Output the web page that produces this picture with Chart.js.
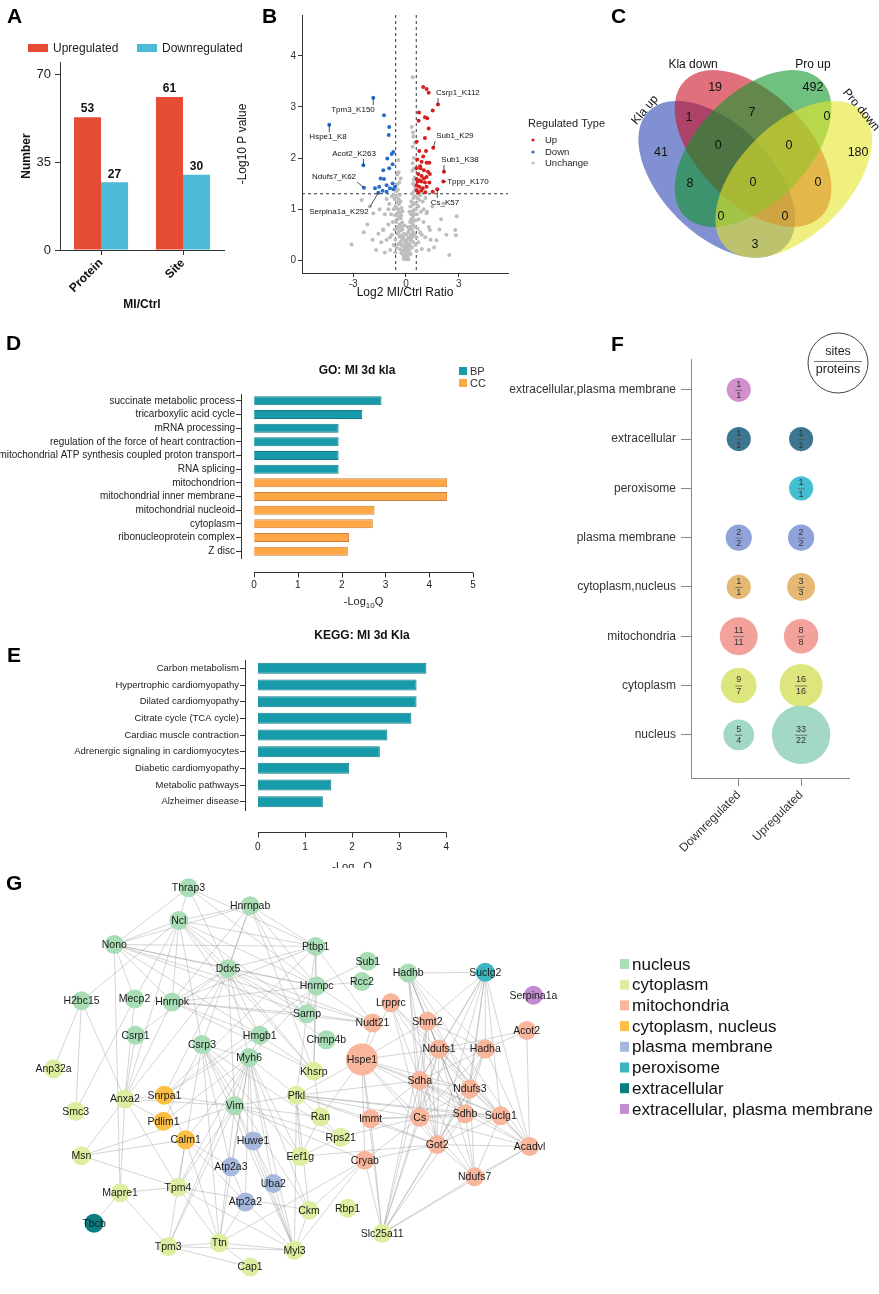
<!DOCTYPE html>
<html>
<head>
<meta charset="utf-8">
<script src="https://cdn.jsdelivr.net/npm/chart.js@4.4.1/dist/chart.umd.min.js"></script>
<style>
  body { margin: 0; background: #fff; width: 879px; height: 1294px; position: relative; overflow: hidden;
         font-family: "Liberation Sans", Arial, sans-serif; }
  canvas { position: absolute; }
  .tag { position: absolute; font-weight: bold; font-size: 21px; color: #000; line-height: 1; }
</style>
</head>
<body>
<canvas id="cA" width="272" height="320" style="left:0;top:0"></canvas>
<canvas id="cB" width="385" height="300" style="left:230px;top:0"></canvas>
<canvas id="cC" width="319" height="300" style="left:560px;top:0"></canvas>
<canvas id="cD" width="500" height="290" style="left:0;top:330px"></canvas>
<canvas id="cF" width="389" height="530" style="left:490px;top:330px"></canvas>
<canvas id="cE" width="480" height="248" style="left:0;top:620px"></canvas>
<canvas id="cG" width="879" height="434" style="left:0;top:860px"></canvas>
<div class="tag" style="left:7px;top:5px">A</div>
<div class="tag" style="left:262px;top:5px">B</div>
<div class="tag" style="left:611px;top:5px">C</div>
<div class="tag" style="left:6px;top:332px">D</div>
<div class="tag" style="left:7px;top:644px">E</div>
<div class="tag" style="left:611px;top:333px">F</div>
<div class="tag" style="left:6px;top:872px">G</div>
<script>
// ---- A: counts of regulated proteins / sites
const groupLabels = ["Protein", "Site"];
const upregulatedCounts = [53, 61];
const downregulatedCounts = [27, 30];

// ---- B: volcano points [log2 ratio, -log10 p]
const upPoints = [[0.98,3.39],[1.17,3.35],[1.29,3.28],[1.82,3.05],[1.52,2.93],[0.74,2.89],[1.08,2.8],[1.21,2.78],
  [0.72,2.73],[1.29,2.58],[1.08,2.39],[0.61,2.32],[1.55,2.2],[1.14,2.14],[0.76,2.14],[0.64,1.97],[0.89,1.93],
  [1.17,1.91],[1.33,1.91],[2.16,1.73],[0.8,1.84],[0.61,1.8],[1.02,1.76],[1.36,1.69],[0.7,1.69],[0.89,1.65],
  [1.17,1.63],[2.12,1.54],[0.61,1.59],[0.8,1.56],[1.08,1.52],[1.33,1.52],[0.61,1.47],[0.76,1.44],[0.95,1.41],
  [1.17,1.44],[0.61,1.37],[0.87,1.36],[1.1,1.33],[1.52,1.34],[1.78,1.39],[0.7,1.32],[0.87,1.54],[0.66,1.54],
  [0.98,2.03],[0.83,1.8],[1.25,1.73],[1.02,1.6]];
const downPoints = [[-1.86,3.18],[-4.36,2.65],[-1.25,2.84],[-0.95,2.61],[-0.98,2.45],[-2.42,1.86],[-0.72,2.12],
  [-0.81,2.08],[-0.76,1.88],[-1.06,1.99],[-0.95,1.8],[-1.29,1.76],[-2.39,1.42],[-1.44,1.6],[-1.25,1.59],
  [-1.52,1.44],[-1.1,1.47],[-0.76,1.5],[-0.62,1.44],[-0.91,1.41],[-1.33,1.36],[-1.57,1.32],[-1.1,1.34],
  [-0.72,1.39],[-1.76,1.41]];
const unchangePoints = [[0,0.02],[0.05,0.05],[-0.05,0.04],[0.1,0.08],[-0.1,0.07],[0.02,0.12],[-0.02,0.15],[0.08,0.18],
  [-0.08,0.2],[0.15,0.12],[-0.15,0.1],[0.12,0.25],[-0.12,0.26],[0.2,0.2],[-0.2,0.18],[0.18,0.32],[-0.18,0.3],
  [0.25,0.28],[-0.25,0.3],[0.05,0.3],[-0.05,0.28],[0.22,0.4],[-0.22,0.42],[0.3,0.38],[-0.3,0.36],[0.28,0.5],
  [-0.28,0.48],[0.35,0.45],[-0.35,0.46],[0.15,0.45],[-0.15,0.44],[0.32,0.6],[-0.32,0.58],[0.4,0.55],[-0.4,0.56],
  [0.26,0.65],[-0.27,0.66],[0.36,0.72],[-0.36,0.7],[0.42,0.68],[-0.44,0.65],[0.3,0.8],[-0.3,0.82],[0.4,0.85],
  [-0.4,0.86],[0.46,0.78],[-0.48,0.8],[0.35,0.95],[-0.36,0.94],[0.44,0.98],[-0.44,1.0],[0.5,0.9],[-0.5,0.92],
  [0.38,1.08],[-0.4,1.1],[0.48,1.12],[-0.5,1.14],[0.42,1.22],[-0.42,1.2],[0.52,1.25],[-0.54,1.26],[0.46,1.35],
  [-0.46,1.38],[0.36,1.3],[-0.34,1.28],[0.5,1.45],[-0.5,1.48],[0.4,1.5],[-0.38,1.52],[0.55,1.4],[-0.56,1.35],
  [0.45,1.58],[-0.3,1.6],[0.5,1.62],[0.33,2.61],[0.42,2.42],[0.38,2.22],[0.38,1.9],[-0.44,1.96],[0.38,3.58],
  [0.45,2.0],[0.36,1.75],[-0.42,1.72],[0.5,2.3],[0.4,2.5],[-0.5,1.68],[0.48,1.8],
  [-0.6,0.4],[0.6,0.45],[-0.7,0.3],[0.7,0.35],[-0.65,0.6],[0.66,0.62],[-0.8,0.5],[0.8,0.55],[-0.75,0.75],
  [0.72,0.8],[-0.9,0.45],[0.9,0.5],[-0.85,0.9],[0.85,0.95],[-0.7,1.0],[0.7,1.05],[-0.65,1.2],[0.65,1.22],
  [-1.0,0.7],[1.0,0.75],[-1.1,0.4],[1.1,0.45],[-0.95,1.1],[0.95,1.15],[-1.2,0.9],[1.2,0.95],[-1.3,0.6],
  [1.3,0.65],[-1.4,0.35],[1.4,0.4],[-1.29,0.59],[1.36,0.59],[-1.57,0.52],[1.74,0.39],[-1.86,0.92],[1.17,0.92],
  [-2.05,1.05],[2.12,1.11],[-2.52,1.18],[-3.09,0.31],[2.46,0.1],[2.88,0.86],[2.8,0.59],[2.84,0.49],[-1.7,0.2],
  [1.6,0.25],[-0.9,0.2],[0.9,0.22],[-1.1,1.2],[1.1,1.22],[-0.8,1.25],[0.8,1.27],[-2.2,0.7],[2.0,0.8],[-1.5,1.0],
  [1.5,1.05],[-0.6,0.15],[0.6,0.18],[-1.2,0.15],[1.3,0.2],[0.75,1.18],[-0.7,1.28],[1.0,1.0],[-1.0,1.0],
  [0.55,0.3],[-0.55,0.25],[0.62,0.9],[-0.62,0.88],[2.3,0.5],[-2.4,0.55],[1.9,0.6],[-1.9,0.4],[0.6,1.1],[-0.6,1.05],
  [0,0.35],[0.08,0.4],[-0.08,0.38],[0.12,0.55],[-0.12,0.52],[0.2,0.6],[-0.2,0.6],[0,0.5],[0.24,0.75],[-0.22,0.74],
  [0.1,0.65],[-0.1,0.68],[0.3,0.9],[-0.28,0.88],[0.2,0.95],[-0.2,0.96],[0.3,1.15],[-0.3,1.15],[0.25,1.05],
  [-0.25,1.02],[0.04,0.22],[-0.03,0.1],[0.14,0.02],[-0.14,0.03],[0.27,0.12],[-0.27,0.14],[0.34,0.25],[-0.34,0.22],
  [0.42,0.35],[-0.42,0.32],[0.47,0.5],[-0.47,0.52],[0.52,0.65],[-0.52,0.62],[0.55,0.78],[-0.56,0.75],[0.56,1.0],[-0.56,1.02]];
const fcCut = [-0.585, 0.585];
const pCut = 1.301;
const volcanoLabels = [
  { text: "Csrp1_K112", at: [1.82, 3.05], textAt: [2.95, 3.27] },
  { text: "Tpm3_K150", at: [-1.86, 3.18], textAt: [-3.01, 2.94] },
  { text: "Hspe1_K8", at: [-4.36, 2.65], textAt: [-4.43, 2.41] },
  { text: "Acot2_K263", at: [-2.42, 1.86], textAt: [-2.95, 2.08] },
  { text: "Ndufs7_K62", at: [-2.39, 1.42], textAt: [-4.09, 1.63] },
  { text: "Serpina1a_K292", at: [-1.57, 1.32], textAt: [-3.81, 0.94] },
  { text: "Sub1_K29", at: [1.55, 2.2], textAt: [2.78, 2.43] },
  { text: "Sub1_K38", at: [2.16, 1.73], textAt: [3.07, 1.96] },
  { text: "Tppp_K170", at: [2.12, 1.54], textAt: [3.52, 1.53] },
  { text: "Cs_K57", at: [1.78, 1.39], textAt: [2.22, 1.12] }
];

// ---- C: four-set Venn counts (region label anchor in diagram units)
const vennSets = ["Kla up", "Kla down", "Pro up", "Pro down"];
const vennCounts = [19, 492, 1, 7, 0, 41, 0, 0, 180, 8, 0, 0, 0, 0, 3];
const vennRegionAt = [[0.362,0.79],[0.718,0.79],[0.267,0.681],[0.496,0.699],[0.769,0.685],[0.165,0.554],
  [0.373,0.579],[0.631,0.579],[0.882,0.554],[0.271,0.441],[0.5,0.445],[0.736,0.445],[0.383,0.321],[0.616,0.321],[0.507,0.219]];

// ---- D: GO enrichment
const goTerms = ["succinate metabolic process", "tricarboxylic acid cycle", "mRNA processing",
  "regulation of the force of heart contraction", "mitochondrial ATP synthesis coupled proton transport",
  "RNA splicing", "mitochondrion", "mitochondrial inner membrane", "mitochondrial nucleoid", "cytoplasm",
  "ribonucleoprotein complex", "Z disc"];
const goValues = [2.91, 2.47, 1.93, 1.93, 1.93, 1.93, 4.41, 4.41, 2.75, 2.71, 2.17, 2.14];
const goClass = ["BP", "BP", "BP", "BP", "BP", "BP", "CC", "CC", "CC", "CC", "CC", "CC"];

// ---- E: KEGG enrichment
const keggTerms = ["Carbon metabolism", "Hypertrophic cardiomyopathy", "Dilated cardiomyopathy",
  "Citrate cycle (TCA cycle)", "Cardiac muscle contraction", "Adrenergic signaling in cardiomyocytes",
  "Diabetic cardiomyopathy", "Metabolic pathways", "Alzheimer disease"];
const keggValues = [3.58, 3.37, 3.37, 3.26, 2.75, 2.59, 1.94, 1.56, 1.38];

// ---- F: subcellular location bubbles
const locations = ["extracellular,plasma membrane", "extracellular", "peroxisome", "plasma membrane",
  "cytoplasm,nucleus", "mitochondria", "cytoplasm", "nucleus"];
const regGroups = ["Downregulated", "Upregulated"];
const downSites = [1, 1, null, 2, 1, 11, 9, 5];
const downProteins = [1, 1, null, 2, 1, 11, 7, 4];
const upSites = [null, 1, 1, 2, 3, 8, 16, 33];
const upProteins = [null, 1, 1, 2, 3, 8, 16, 22];
const locColors = ["#D291CB", "#3C7690", "#44BFD2", "#8FA3DA", "#E5B873", "#F2A29A", "#DDE67C", "#A2D8C4"];

// ---- G: network nodes [name, location index, layout x, layout y]
const netLocations = ["nucleus", "cytoplasm", "mitochondria", "cytoplasm, nucleus", "plasma membrane",
  "peroxisome", "extracellular", "extracellular, plasma membrane"];
const netColors = ["#A8DDB5", "#DCEFA0", "#F8B69C", "#FBBF45", "#A6B9DC", "#3DB5BF", "#0B7E82", "#C28DD0"];
const nodes = [
  ["Thrap3",0,29.8,104.3],["Hnrnpab",0,42.6,99.5],["Ncl",0,27.8,95.5],["Nono",0,14.4,89],["Ptbp1",0,56.2,88.5],
  ["Ddx5",0,38,82.5],["Sub1",0,67,84.5],["Rcc2",0,65.8,79],["Hadhb",0,75.4,81.3],["Suclg2",5,91.4,81.5],
  ["Serpina1a",7,101.4,75.3],["Hnrnpc",0,56.4,77.8],["H2bc15",0,7.6,73.8],["Mecp2",0,18.6,74.3],["Hnrnpk",0,26.4,73.5],
  ["Lrpprc",2,71.8,73.3],["Sarnp",0,54.4,70.3],["Nudt21",2,68,67.8],["Shmt2",2,79.4,68.3],["Acot2",2,100,65.8],
  ["Csrp1",0,18.8,64.5],["Hmgb1",0,44.6,64.5],["Chmp4b",0,58.4,63.3],["Csrp3",0,32.6,62],["Ndufs1",2,81.8,60.8],
  ["Hadha",2,91.4,60.8],["Hspe1",2,65.8,58],["Myh6",0,42.4,58.5],["Anp32a",1,1.8,55.5],["Khsrp",1,55.8,54.8],
  ["Sdha",2,77.8,52.3],["Ndufs3",2,88.2,50],["Anxa2",1,16.6,47.3],["Snrpa1",3,24.8,48.3],["Pfkl",1,52.2,48.3],
  ["Smc3",1,6.4,44],["Vim",0,39.4,45.5],["Pdlim1",3,24.6,41.3],["Ran",1,57.2,42.5],["Immt",2,67.6,42],
  ["Cs",2,77.8,42.3],["Sdhb",2,87.2,43.3],["Suclg1",2,94.6,42.8],["Rps21",1,61.4,37],["Calm1",3,29.2,36.3],
  ["Huwe1",4,43.2,36],["Got2",2,81.4,35],["Acadvl",2,100.6,34.5],["Msn",1,7.6,32],["Eef1g",1,53,31.8],
  ["Cryab",2,66.4,30.8],["Atp2a3",4,38.6,29],["Ndufs7",2,89.2,26.3],["Uba2",4,47.4,24.5],["Tpm4",1,27.6,23.5],
  ["Mapre1",1,15.6,22],["Atp2a2",4,41.6,19.5],["Ckm",1,54.8,17.3],["Rbp1",1,62.8,17.8],["Tbcb",6,10.2,13.8],
  ["Slc25a11",1,70,11],["Ttn",1,36.2,8.5],["Tpm3",1,25.6,7.5],["Myl3",1,51.8,6.5],["Cap1",1,42.6,2]
];
const edges = [
  "Thrap3-Ncl","Thrap3-Nono","Thrap3-Ddx5","Thrap3-Hnrnpc","Thrap3-Ptbp1",
  "Hnrnpab-Ncl","Hnrnpab-Ddx5","Hnrnpab-Ptbp1","Hnrnpab-Hnrnpc","Hnrnpab-Hnrnpk","Hnrnpab-Khsrp","Hnrnpab-Nono","Hnrnpab-Csrp3","Hnrnpab-Sarnp",
  "Ncl-Nono","Ncl-Ddx5","Ncl-Ptbp1","Ncl-Hnrnpc","Ncl-Hnrnpk","Ncl-Mecp2","Ncl-Anxa2","Ncl-Hmgb1","Ncl-Khsrp","Ncl-Sarnp","Ncl-Csrp3","Ncl-H2bc15",
  "Nono-Ddx5","Nono-Hnrnpc","Nono-Ptbp1","Nono-Hnrnpk","Nono-Mapre1","Nono-Hmgb1","Nono-Sarnp","Nono-Mecp2","Nono-Nudt21",
  "Ddx5-Hnrnpc","Ddx5-Hnrnpk","Ddx5-Ptbp1","Ddx5-Myh6","Ddx5-Snrpa1","Ddx5-Hmgb1","Ddx5-Khsrp","Ddx5-Nudt21","Ddx5-Anxa2","Ddx5-Vim","Ddx5-Csrp1","Ddx5-Chmp4b","Ddx5-Sarnp",
  "Ptbp1-Hnrnpc","Ptbp1-Hnrnpk","Ptbp1-Khsrp","Ptbp1-Nudt21","Ptbp1-Snrpa1","Ptbp1-Pfkl",
  "Hnrnpc-Hnrnpk","Hnrnpc-Khsrp","Hnrnpc-Sarnp","Hnrnpc-Nudt21","Hnrnpc-Sub1","Hnrnpc-Myh6","Hnrnpc-Rcc2","Hnrnpc-Snrpa1",
  "H2bc15-Anp32a","H2bc15-Smc3","H2bc15-Anxa2","Mecp2-Smc3","Mecp2-Anxa2",
  "Hnrnpk-Anxa2","Hnrnpk-Sarnp","Hnrnpk-Nudt21","Hnrnpk-Hmgb1","Hnrnpk-Khsrp","Csrp1-Anxa2",
  "Hmgb1-Khsrp","Hmgb1-Snrpa1","Hmgb1-Myh6",
  "Csrp3-Myh6","Csrp3-Vim","Csrp3-Tpm4","Csrp3-Ttn","Csrp3-Myl3","Csrp3-Ckm","Csrp3-Pdlim1","Csrp3-Rps21","Csrp3-Eef1g","Csrp3-Atp2a3",
  "Myh6-Vim","Myh6-Tpm4","Myh6-Tpm3","Myh6-Ttn","Myh6-Myl3","Myh6-Ckm","Myh6-Atp2a2","Myh6-Atp2a3","Myh6-Huwe1","Myh6-Calm1","Myh6-Pfkl","Myh6-Uba2","Myh6-Eef1g","Myh6-Pdlim1",
  "Vim-Anxa2","Vim-Snrpa1","Vim-Tpm4","Vim-Cryab","Vim-Ttn","Vim-Msn","Vim-Myl3","Vim-Huwe1","Vim-Ran","Vim-Rps21","Vim-Pfkl","Vim-Tpm3",
  "Anxa2-Tpm4","Anxa2-Mapre1","Anxa2-Msn","Anxa2-Snrpa1","Anxa2-Pdlim1","Msn-Tpm4","Msn-Calm1",
  "Mapre1-Tbcb","Mapre1-Tpm4","Mapre1-Tpm3","Tpm4-Tpm3","Tpm4-Ttn","Tpm4-Myl3","Tpm4-Calm1","Tpm4-Ckm",
  "Tpm3-Ttn","Tpm3-Myl3","Tpm3-Cap1","Ttn-Myl3","Ttn-Cryab","Ttn-Calm1","Ttn-Atp2a2","Ttn-Cap1",
  "Atp2a3-Atp2a2","Atp2a3-Calm1","Atp2a2-Myl3","Atp2a2-Calm1","Huwe1-Uba2","Huwe1-Myl3","Uba2-Myl3",
  "Ckm-Myl3","Ckm-Pfkl","Ckm-Cryab","Myl3-Cryab","Myl3-Pfkl","Cryab-Hspe1","Cryab-Got2","Cryab-Cs",
  "Pfkl-Ran","Pfkl-Eef1g","Pfkl-Cs","Pfkl-Sdha","Pfkl-Got2","Pfkl-Hspe1","Pfkl-Immt","Pfkl-Sdhb","Pfkl-Suclg1",
  "Khsrp-Ran","Ran-Eef1g","Ran-Rps21","Ran-Hspe1","Eef1g-Rps21","Eef1g-Got2","Rps21-Cs",
  "Hspe1-Shmt2","Hspe1-Ndufs1","Hspe1-Sdha","Hspe1-Cs","Hspe1-Immt","Hspe1-Got2","Hspe1-Sdhb","Hspe1-Suclg1","Hspe1-Lrpprc","Hspe1-Ndufs3",
  "Slc25a11-Got2","Slc25a11-Cs","Slc25a11-Sdha","Slc25a11-Ndufs7","Slc25a11-Acadvl","Slc25a11-Hspe1","Slc25a11-Immt","Slc25a11-Ndufs1","Slc25a11-Sdhb","Slc25a11-Ndufs3","Slc25a11-Cryab","Slc25a11-Shmt2",
  "Hadhb-Suclg2","Hadhb-Shmt2","Hadhb-Ndufs1","Hadhb-Sdha","Hadhb-Cs","Hadhb-Got2","Hadhb-Hadha","Hadhb-Sdhb","Hadhb-Acadvl","Hadhb-Ndufs3",
  "Suclg2-Shmt2","Suclg2-Ndufs1","Suclg2-Sdha","Suclg2-Cs","Suclg2-Suclg1","Suclg2-Sdhb","Suclg2-Acadvl","Suclg2-Got2","Suclg2-Ndufs3","Suclg2-Hadha",
  "Acot2-Hadha","Acot2-Acadvl","Acot2-Ndufs1","Lrpprc-Ndufs3","Lrpprc-Cs","Lrpprc-Ndufs1","Lrpprc-Sdhb","Lrpprc-Sdha",
  "Shmt2-Ndufs1","Shmt2-Sdha","Shmt2-Cs","Shmt2-Got2","Shmt2-Suclg1","Shmt2-Sdhb","Shmt2-Hadha",
  "Ndufs1-Hadha","Ndufs1-Sdha","Ndufs1-Ndufs3","Ndufs1-Cs","Ndufs1-Got2","Ndufs1-Sdhb","Ndufs1-Ndufs7","Ndufs1-Suclg1","Ndufs1-Acadvl",
  "Hadha-Sdha","Hadha-Cs","Hadha-Acadvl","Hadha-Got2","Hadha-Ndufs3","Hadha-Sdhb",
  "Sdha-Ndufs3","Sdha-Cs","Sdha-Sdhb","Sdha-Suclg1","Sdha-Got2","Sdha-Ndufs7","Sdha-Immt","Sdha-Acadvl",
  "Ndufs3-Cs","Ndufs3-Sdhb","Ndufs3-Suclg1","Ndufs3-Got2","Ndufs3-Ndufs7","Ndufs3-Acadvl",
  "Cs-Sdhb","Cs-Suclg1","Cs-Got2","Cs-Immt","Cs-Acadvl","Cs-Ndufs7","Sdhb-Suclg1","Sdhb-Got2","Sdhb-Ndufs7","Sdhb-Acadvl",
  "Suclg1-Got2","Suclg1-Acadvl","Suclg1-Ndufs7","Got2-Ndufs7","Got2-Acadvl","Got2-Immt","Acadvl-Ndufs7","Immt-Sdhb",
  "Nudt21-Sarnp","Nudt21-Hspe1","Calm1-Snrpa1"
];

Chart.defaults.font.family = '"Liberation Sans", Arial, sans-serif';
Chart.defaults.color = "#222";
Chart.defaults.animation = false;
Chart.defaults.responsive = false;
Chart.defaults.events = [];
Chart.defaults.plugins.legend.display = false;
Chart.defaults.plugins.tooltip.enabled = false;
const FONT = '"Liberation Sans", Arial, sans-serif';

// ================= A =================
const barLegendAndValues = {
  id: "barLegendAndValues",
  afterDatasetsDraw(chart) {
    const ctx = chart.ctx;
    ctx.save();
    ctx.font = "bold 12px " + FONT;
    ctx.fillStyle = "#111";
    ctx.textAlign = "center";
    ctx.textBaseline = "bottom";
    chart.data.datasets.forEach((ds, di) => {
      chart.getDatasetMeta(di).data.forEach((bar, i) => ctx.fillText(ds.data[i], bar.x, bar.y - 2));
    });
    // legend row
    ctx.font = "12px " + FONT;
    ctx.textAlign = "left";
    ctx.textBaseline = "middle";
    const starts = [28, 137];
    chart.data.datasets.forEach((ds, di) => {
      ctx.fillStyle = ds.backgroundColor;
      ctx.fillRect(starts[di], 44, 20, 8);
      ctx.fillStyle = "#222";
      ctx.fillText(ds.label, starts[di] + 25, 48.5);
    });
    ctx.restore();
  }
};
new Chart(document.getElementById("cA"), {
  type: "bar",
  data: {
    labels: groupLabels,
    datasets: [
      { label: "Upregulated", data: upregulatedCounts, backgroundColor: "#E64B35" },
      { label: "Downregulated", data: downregulatedCounts, backgroundColor: "#4DBBD5" }
    ]
  },
  options: {
    layout: { padding: { top: 62, left: 0, right: 48, bottom: 0 } },
    datasets: { bar: { categoryPercentage: 0.66, barPercentage: 1 } },
    scales: {
      x: {
        grid: { drawOnChartArea: false, offset: false, tickLength: 5, color: "#333" },
        border: { color: "#333" },
        ticks: { minRotation: 45, maxRotation: 45, font: { size: 12, weight: "bold" }, color: "#111", padding: 1 },
        title: { display: true, text: "MI/Ctrl", font: { size: 12, weight: "bold" }, color: "#111", padding: { top: 0, bottom: 8 } },
        afterFit: s => { s.height = 70; }
      },
      y: {
        min: 0, max: 75,
        afterBuildTicks: s => { s.ticks = [0, 35, 70].map(v => ({ value: v })); },
        grid: { drawOnChartArea: false, tickLength: 5, color: "#333" },
        border: { color: "#333" },
        ticks: { font: { size: 13 }, color: "#222", padding: 4 },
        title: { display: true, text: "Number", font: { size: 12, weight: "bold" }, color: "#111", padding: { top: 19, bottom: 0 } },
        afterFit: s => { s.width = 60; }
      }
    }
  },
  plugins: [barLegendAndValues]
});

// ================= B =================
const volcanoExtras = {
  id: "volcanoExtras",
  beforeDatasetsDraw(chart) {
    const { ctx, chartArea: ca, scales: { x, y } } = chart;
    ctx.save();
    ctx.setLineDash([3, 3]);
    ctx.strokeStyle = "#333";
    ctx.lineWidth = 1;
    ctx.beginPath();
    fcCut.forEach(v => { const px = x.getPixelForValue(v); ctx.moveTo(px, ca.top); ctx.lineTo(px, ca.bottom); });
    const py = y.getPixelForValue(pCut);
    ctx.moveTo(ca.left, py); ctx.lineTo(ca.right, py);
    ctx.stroke();
    ctx.restore();
  },
  afterDatasetsDraw(chart) {
    const { ctx, scales: { x, y } } = chart;
    ctx.save();
    ctx.font = "8px " + FONT;
    ctx.textAlign = "center";
    ctx.textBaseline = "middle";
    volcanoLabels.forEach(l => {
      const px = x.getPixelForValue(l.at[0]), py = y.getPixelForValue(l.at[1]);
      const tx = x.getPixelForValue(l.textAt[0]), ty = y.getPixelForValue(l.textAt[1]);
      const w = ctx.measureText(l.text).width;
      const ex = Math.max(tx - w / 2 - 1, Math.min(px, tx + w / 2 + 1));
      const ey = Math.max(ty - 5, Math.min(py, ty + 5));
      ctx.strokeStyle = "#222"; ctx.lineWidth = 0.8;
      ctx.beginPath(); ctx.moveTo(px, py); ctx.lineTo(ex, ey); ctx.stroke();
      ctx.fillStyle = "#111";
      ctx.fillText(l.text, tx, ty);
    });
    // legend
    ctx.textAlign = "left";
    ctx.font = "11px " + FONT;
    ctx.fillStyle = "#222";
    ctx.fillText("Regulated Type", 298, 124);
    ctx.font = "9.5px " + FONT;
    const ys = [140, 152, 163];
    chart.data.datasets.forEach((ds, i) => {
      ctx.fillStyle = ds.backgroundColor;
      ctx.beginPath(); ctx.arc(303, ys[i], 1.6, 0, Math.PI * 2); ctx.fill();
      ctx.fillStyle = "#222";
      ctx.fillText(ds.label, 315, ys[i]);
    });
    ctx.restore();
  }
};
const toXY = p => ({ x: p[0], y: p[1] });
new Chart(document.getElementById("cB"), {
  type: "scatter",
  data: {
    datasets: [
      { label: "Up", data: upPoints.map(toXY), backgroundColor: "#D42020", pointRadius: 2, borderWidth: 0 },
      { label: "Down", data: downPoints.map(toXY), backgroundColor: "#2A6BCB", pointRadius: 2, borderWidth: 0 },
      { label: "Unchange", data: unchangePoints.map(toXY), backgroundColor: "#BDBDBD", pointRadius: 2, borderWidth: 0 }
    ]
  },
  options: {
    layout: { padding: { top: 15, left: 0, right: 107, bottom: 0 } },
    scales: {
      x: {
        min: -5.91, max: 5.8,
        afterBuildTicks: s => { s.ticks = [-3, 0, 3].map(v => ({ value: v })); },
        grid: { drawOnChartArea: false, tickLength: 4, color: "#333" },
        border: { color: "#333" },
        ticks: { font: { size: 10 }, color: "#333", padding: 1 },
        title: { display: true, text: "Log2 MI/Ctrl Ratio", font: { size: 12 }, color: "#111", padding: { top: 0, bottom: 0 } },
        afterFit: s => { s.height = 27; }
      },
      y: {
        min: -0.25, max: 4.8,
        afterBuildTicks: s => { s.ticks = [0, 1, 2, 3, 4].map(v => ({ value: v })); },
        grid: { drawOnChartArea: false, tickLength: 4, color: "#333" },
        border: { color: "#333" },
        ticks: { font: { size: 10 }, color: "#333", padding: 2 },
        title: { display: true, text: "-Log10 P value", font: { size: 12 }, color: "#111", padding: { top: 5, bottom: 0 } },
        afterFit: s => { s.width = 72; }
      }
    }
  },
  plugins: [volcanoExtras]
});

// ================= C =================
const vennEllipses = [
  { cx: 0.368, cy: 0.458, rot: 45, color: "#2B46B1" },
  { cx: 0.5, cy: 0.57, rot: 45, color: "#CB1125" },
  { cx: 0.5, cy: 0.57, rot: -45, color: "#11962B" },
  { cx: 0.648, cy: 0.458, rot: -45, color: "#E6E62B" }
];
const vennNameAt = [[0.107, 0.71, -50], [0.282, 0.874, 0], [0.718, 0.874, 0], [0.893, 0.71, 50]];
const vennPlugin = {
  id: "venn",
  beforeDatasetsDraw(chart) {
    const { ctx, scales: { x, y } } = chart;
    const s = x.getPixelForValue(1) - x.getPixelForValue(0);
    ctx.save();
    vennEllipses.forEach(e => {
      ctx.save();
      ctx.translate(x.getPixelForValue(e.cx), y.getPixelForValue(e.cy));
      ctx.rotate(e.rot * Math.PI / 180);
      ctx.beginPath();
      ctx.ellipse(0, 0, 0.35 * s, 0.2 * s, 0, 0, Math.PI * 2);
      ctx.globalAlpha = 0.6;
      ctx.fillStyle = e.color;
      ctx.fill();
      ctx.restore();
    });
    ctx.font = "12px " + FONT;
    ctx.fillStyle = "#111";
    ctx.textAlign = "center";
    ctx.textBaseline = "middle";
    vennSets.forEach((name, i) => {
      const a = vennNameAt[i];
      ctx.save();
      ctx.translate(x.getPixelForValue(a[0]), y.getPixelForValue(a[1]));
      ctx.rotate(a[2] * Math.PI / 180);
      ctx.fillText(name, 0, 0);
      ctx.restore();
    });
    ctx.restore();
  },
  afterDatasetsDraw(chart) {
    const ctx = chart.ctx;
    ctx.save();
    ctx.font = "12.5px " + FONT;
    ctx.fillStyle = "#111";
    ctx.textAlign = "center";
    ctx.textBaseline = "middle";
    chart.getDatasetMeta(0).data.forEach((pt, i) => ctx.fillText(chart.data.datasets[0].data[i].n, pt.x, pt.y));
    ctx.restore();
  }
};
new Chart(document.getElementById("cC"), {
  type: "scatter",
  data: { datasets: [{ data: vennCounts.map((n, i) => ({ x: vennRegionAt[i][0], y: vennRegionAt[i][1], n })), pointRadius: 0 }] },
  options: {
    layout: { padding: 0 },
    scales: {
      x: { display: false, min: -0.202, max: 0.958 },
      y: { display: false, min: 0.019, max: 1.11 }
    }
  },
  plugins: [vennPlugin]
});

// ================= D / E =================
function offsetAxisPlugin(opts) {
  return {
    id: "offsetAxis",
    afterDraw(chart) {
      const { ctx, chartArea: ca, scales: { x } } = chart;
      const y0 = Math.round(ca.bottom + opts.gap) + 0.5;
      ctx.save();
      ctx.strokeStyle = "#333";
      ctx.lineWidth = 1;
      ctx.beginPath();
      ctx.moveTo(x.getPixelForValue(0), y0);
      ctx.lineTo(x.getPixelForValue(opts.max), y0);
      x.ticks.forEach(t => {
        const px = Math.round(x.getPixelForValue(t.value)) + 0.5;
        ctx.moveTo(px, y0); ctx.lineTo(px, y0 + 5);
      });
      ctx.stroke();
      // axis title -Log10Q
      const cx = (x.getPixelForValue(0) + x.getPixelForValue(opts.max)) / 2;
      ctx.fillStyle = "#222";
      ctx.textBaseline = "alphabetic";
      ctx.textAlign = "left";
      const big = "11px " + FONT, small = "8px " + FONT;
      ctx.font = big; const w1 = ctx.measureText("-Log").width, w3 = ctx.measureText("Q").width;
      ctx.font = small; const w2 = ctx.measureText("10").width;
      let sx = cx - (w1 + w2 + w3) / 2;
      const by = opts.titleY + 4;
      ctx.font = big; ctx.fillText("-Log", sx, by); sx += w1;
      ctx.font = small; ctx.fillText("10", sx, by + 3); sx += w2;
      ctx.font = big; ctx.fillText("Q", sx, by);
      // title
      ctx.font = "bold 12px " + FONT;
      ctx.textAlign = "center";
      ctx.textBaseline = "middle";
      ctx.fillStyle = "#111";
      ctx.fillText(opts.title, opts.titleAt[0], opts.titleAt[1]);
      if (opts.legend) {
        ctx.font = "11px " + FONT;
        ctx.textAlign = "left";
        opts.legend.forEach((l, i) => {
          ctx.fillStyle = l.color;
          ctx.fillRect(459, 37 + i * 12, 8, 8);
          ctx.fillStyle = "#333";
          ctx.fillText(l.name, 470, 41.5 + i * 12);
        });
      }
      ctx.restore();
    }
  };
}
const goColors = { BP: "#179BAA", CC: "#FFA646" };
const goBorders = { BP: "#137987", CC: "#C77F35" };
new Chart(document.getElementById("cD"), {
  type: "bar",
  data: {
    labels: goTerms,
    datasets: [{
      data: goValues,
      backgroundColor: goClass.map(c => goColors[c]),
      borderColor: goClass.map(c => goBorders[c]),
      borderWidth: 1,
      categoryPercentage: 0.66, barPercentage: 1
    }]
  },
  options: {
    indexAxis: "y",
    layout: { padding: { top: 64, left: 0, right: 27, bottom: 0 } },
    scales: {
      x: {
        min: -0.3, max: 5,
        afterBuildTicks: s => { s.ticks = [0, 1, 2, 3, 4, 5].map(v => ({ value: v })); },
        grid: { display: false, drawTicks: false },
        border: { display: false },
        ticks: { font: { size: 10 }, color: "#222", padding: 21 },
        afterFit: s => { s.height = 62; }
      },
      y: {
        grid: { drawOnChartArea: false, offset: false, tickLength: 5, color: "#333" },
        border: { color: "#333" },
        ticks: { font: { size: 10 }, color: "#222", padding: 1, autoSkip: false },
        afterFit: s => { s.width = 241; }
      }
    }
  },
  plugins: [offsetAxisPlugin({ gap: 14, max: 5, titleY: 271, title: "GO: MI 3d kla", titleAt: [357, 41],
    legend: [{ name: "BP", color: goColors.BP }, { name: "CC", color: goColors.CC }] })]
});

new Chart(document.getElementById("cE"), {
  type: "bar",
  data: {
    labels: keggTerms,
    datasets: [{
      data: keggValues,
      backgroundColor: "#179BAA",
      borderColor: "#137987",
      borderWidth: 1,
      categoryPercentage: 0.66, barPercentage: 1
    }]
  },
  options: {
    indexAxis: "y",
    layout: { padding: { top: 40, left: 0, right: 32, bottom: 0 } },
    scales: {
      x: {
        min: -0.273, max: 4,
        afterBuildTicks: s => { s.ticks = [0, 1, 2, 3, 4].map(v => ({ value: v })); },
        grid: { display: false, drawTicks: false },
        border: { display: false },
        ticks: { font: { size: 10 }, color: "#222", padding: 31 },
        afterFit: s => { s.height = 58; }
      },
      y: {
        grid: { drawOnChartArea: false, offset: false, tickLength: 5, color: "#333" },
        border: { color: "#333" },
        ticks: { font: { size: 9.5 }, color: "#222", padding: 1, autoSkip: false },
        afterFit: s => { s.width = 245; }
      }
    }
  },
  plugins: [offsetAxisPlugin({ gap: 22, max: 4, titleY: 246, title: "KEGG: MI 3d Kla", titleAt: [362, 16] })]
});

// ================= F =================
const bubbleRadius = s => 10 + 0.27 * s + 1.8 * Math.sqrt(s);
function bubbleRows(xi, sites, prots) {
  const out = [];
  locations.forEach((loc, i) => {
    if (sites[i] == null) return;
    out.push({ x: xi, y: locations.length - 1 - i, r: bubbleRadius(sites[i]), s: sites[i], p: prots[i], c: i });
  });
  return out;
}
const fractionPlugin = {
  id: "fractions",
  afterDatasetsDraw(chart) {
    const ctx = chart.ctx;
    ctx.save();
    ctx.font = "9px " + FONT;
    ctx.textAlign = "center";
    ctx.textBaseline = "middle";
    chart.data.datasets.forEach((ds, di) => {
      chart.getDatasetMeta(di).data.forEach((el, i) => {
        const d = ds.data[i];
        ctx.fillStyle = "#333";
        ctx.fillText(d.s, el.x, el.y - 5.5);
        ctx.fillText(d.p, el.x, el.y + 6);
        const w = Math.max(ctx.measureText(String(d.s)).width, ctx.measureText(String(d.p)).width) + 2;
        ctx.strokeStyle = "#555"; ctx.lineWidth = 0.7;
        ctx.beginPath(); ctx.moveTo(el.x - w / 2, el.y + 0.5); ctx.lineTo(el.x + w / 2, el.y + 0.5); ctx.stroke();
      });
    });
    // key circle
    ctx.strokeStyle = "#444"; ctx.lineWidth = 1;
    ctx.beginPath(); ctx.arc(348, 33, 30, 0, Math.PI * 2); ctx.stroke();
    ctx.font = "12.5px " + FONT;
    ctx.fillStyle = "#222";
    ctx.fillText("sites", 348, 22);
    ctx.fillText("proteins", 348, 40);
    ctx.strokeStyle = "#777";
    ctx.beginPath(); ctx.moveTo(324, 31.5); ctx.lineTo(372, 31.5); ctx.stroke();
    ctx.restore();
  }
};
new Chart(document.getElementById("cF"), {
  type: "bubble",
  data: {
    datasets: [
      { label: "Downregulated", data: bubbleRows(0, downSites, downProteins), backgroundColor: c => locColors[c.raw.c], borderWidth: 0 },
      { label: "Upregulated", data: bubbleRows(1, upSites, upProteins), backgroundColor: c => locColors[c.raw.c], borderWidth: 0 }
    ]
  },
  options: {
    layout: { padding: { top: 13, left: 0, right: 25, bottom: 0 } },
    clip: false,
    scales: {
      x: {
        min: -0.766, max: 1.78,
        afterBuildTicks: s => { s.ticks = [0, 1].map(v => ({ value: v })); },
        grid: { drawOnChartArea: false, tickLength: 8, color: "#888" },
        border: { color: "#888" },
        ticks: { callback: v => regGroups[v], minRotation: 45, maxRotation: 45, font: { size: 12 }, color: "#333", padding: 2 },
        afterFit: s => { s.height = 82; }
      },
      y: {
        min: -0.877, max: 7.62,
        afterBuildTicks: s => { s.ticks = [0, 1, 2, 3, 4, 5, 6, 7].map(v => ({ value: v })); },
        grid: { drawOnChartArea: false, tickLength: 10, color: "#888" },
        border: { color: "#888" },
        ticks: { callback: v => locations[locations.length - 1 - v], font: { size: 12 }, color: "#333", padding: 5 },
        afterFit: s => { s.width = 201; }
      }
    }
  },
  plugins: [fractionPlugin]
});

// ================= G =================
const nodeIndex = {};
nodes.forEach((n, i) => { nodeIndex[n[0]] = i; });
const networkPlugin = {
  id: "network",
  beforeDatasetsDraw(chart) {
    const { ctx, scales: { x, y } } = chart;
    ctx.save();
    ctx.strokeStyle = "rgba(150,150,150,0.5)";
    ctx.lineWidth = 0.8;
    ctx.beginPath();
    edges.forEach(e => {
      const [a, b] = e.split("-").map(n => nodes[nodeIndex[n]]);
      ctx.moveTo(x.getPixelForValue(a[2]), y.getPixelForValue(a[3]));
      ctx.lineTo(x.getPixelForValue(b[2]), y.getPixelForValue(b[3]));
    });
    ctx.stroke();
    ctx.restore();
  },
  afterDatasetsDraw(chart) {
    const ctx = chart.ctx;
    ctx.save();
    ctx.font = "10.5px " + FONT;
    ctx.textAlign = "center";
    ctx.textBaseline = "middle";
    chart.getDatasetMeta(0).data.forEach((pt, i) => {
      ctx.fillStyle = "#1a1a1a";
      ctx.fillText(nodes[i][0], pt.x, pt.y + 0.5);
    });
    // location legend
    ctx.font = "17px " + FONT;
    ctx.textAlign = "left";
    netLocations.forEach((name, i) => {
      const cy = 104 + i * 20.7;
      ctx.fillStyle = netColors[i];
      ctx.fillRect(620, cy - 5, 9, 10);
      ctx.fillStyle = "#111";
      ctx.fillText(name, 632, cy + 1);
    });
    ctx.restore();
  }
};
new Chart(document.getElementById("cG"), {
  type: "scatter",
  data: {
    datasets: [{
      data: nodes.map(n => ({ x: n[2], y: n[3] })),
      backgroundColor: nodes.map(n => netColors[n[1]]),
      pointRadius: nodes.map(n => n[0] === "Hspe1" ? 16 : 9.5),
      borderWidth: 0,
      clip: false
    }]
  },
  options: {
    layout: { padding: 0 },
    scales: {
      x: { display: false, min: -6, max: 169.8 },
      y: { display: false, min: -1, max: 107.5 }
    }
  },
  plugins: [networkPlugin]
});
</script>
</body>
</html>
